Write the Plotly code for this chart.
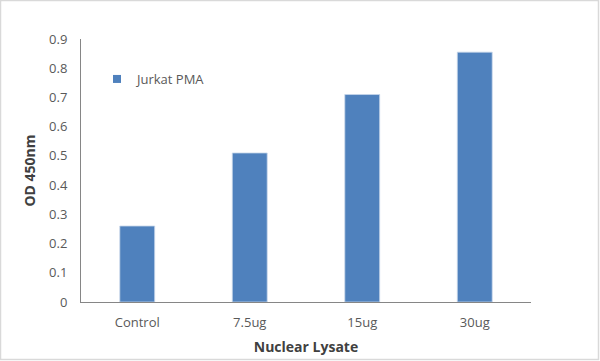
import plotly.graph_objects as go

categories = ["Control", "7.5ug", "15ug", "30ug"]
values = [0.26, 0.51, 0.71, 0.855]
series_name = "Jurkat PMA"
y_ticks = [0, 0.1, 0.2, 0.3, 0.4, 0.5, 0.6, 0.7, 0.8, 0.9]
y_tick_labels = ["0", "0.1", "0.2", "0.3", "0.4", "0.5", "0.6", "0.7", "0.8", "0.9"]

W, H = 600, 361
ml, mr, mt, mb = 81, 69, 39, 59
pw, ph = W - ml - mr, H - mt - mb
bar_color = "#4F81BD"

fig = go.Figure()
fig.add_trace(go.Bar(
    x=categories, y=values, name=series_name,
    marker=dict(color=bar_color, line=dict(color="#C6D5EA", width=0.8)),
    width=0.31, showlegend=False,
))
# legend entry with a small square key
fig.add_trace(go.Scatter(
    x=[None], y=[None], mode="markers", name=series_name,
    marker=dict(symbol="square", size=8, color=bar_color), showlegend=True,
))

font = "Open Sans, Liberation Sans, sans-serif"
fig.update_layout(
    width=W, height=H,
    margin=dict(l=ml, r=mr, t=mt, b=mb, autoexpand=False),
    paper_bgcolor="white", plot_bgcolor="white",
    font=dict(family=font, color="#595959", size=13),
    showlegend=True,
    legend=dict(x=(97 - ml) / pw, y=1 - (79 - mt) / ph, xanchor="left", yanchor="middle",
                bgcolor="rgba(0,0,0,0)", font=dict(size=13, color="#595959"),
                itemwidth=30),
    xaxis=dict(showline=True, linecolor="#868686", linewidth=1, ticks="",
               tickfont=dict(size=13, color="#595959"), automargin=False, ticklabelstandoff=8,
               title=dict(text="<b>Nuclear Lysate</b>", font=dict(size=14, color="#404040"), standoff=12),
               showgrid=False, zeroline=False),
    yaxis=dict(range=[0, 0.9], tickvals=y_ticks, ticktext=y_tick_labels,
               showline=True, linecolor="#868686", linewidth=1, ticks="",
               tickfont=dict(size=13, color="#595959"), ticklabelstandoff=10, automargin=False,
               title=dict(text="<b>OD 450nm</b>", font=dict(size=14, color="#404040"), standoff=10),
               showgrid=False, zeroline=False),
    bargap=0.69,
)
fig.add_shape(type="rect", xref="paper", yref="paper",
              x0=(-ml + 0.5) / pw, x1=(pw + mr - 1.5) / pw,
              y0=(-mb + 1.5) / ph, y1=(ph + mt - 0.5) / ph,
              line=dict(color="#D9D9D9", width=1.5), fillcolor="rgba(0,0,0,0)", layer="below")

fig.write_html("out.html", config={"displayModeBar": False},
               post_script="document.body.style.margin='0';document.body.style.overflow='hidden';")
